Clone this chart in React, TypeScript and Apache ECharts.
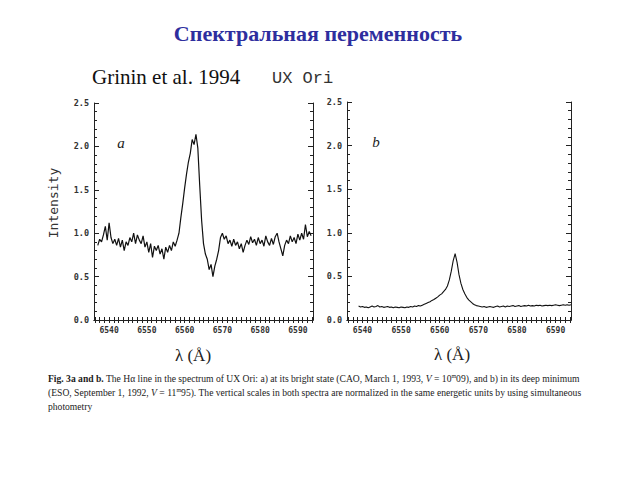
import React, { useEffect, useRef } from "react";
import * as echarts from "echarts";

// Wavelength sampling (Å)
const leftStart = 6537;
const rightStart = 6539;
const sampleStep = 0.5;

// Panel a: bright state (CAO, 1993)
const leftIntensity = [
  0.86, 0.93, 0.90, 0.98, 1.08, 0.92, 1.12, 0.95, 0.88, 0.93,
  0.86, 0.94, 0.84, 0.92, 0.80, 0.90, 0.86, 0.95, 0.90, 1.00,
  0.88, 0.98, 0.92, 0.88, 0.97, 0.84, 0.90, 0.78, 0.88, 0.72,
  0.85, 0.80, 0.86, 0.76, 0.82, 0.70, 0.84, 0.78, 0.86, 0.80,
  0.90, 0.85,
  0.92, 1.00, 1.18, 1.34, 1.52, 1.68, 1.82, 1.92, 2.08, 2.02,
  2.14, 1.98, 1.55, 1.15, 0.88, 0.76, 0.70, 0.58, 0.64, 0.50,
  0.62, 0.70, 0.80, 0.95, 1.00,
  0.93, 0.97, 0.88, 0.92, 0.85, 0.93, 0.86, 0.90, 0.82, 0.88,
  0.78, 0.86, 0.92, 0.87, 0.96, 0.89, 0.93, 0.86, 0.95, 0.88,
  0.92, 0.85, 0.97, 0.90, 0.86, 0.94, 0.87, 0.96, 1.00, 0.90,
  0.82, 0.74, 0.86, 0.92, 0.88, 0.97, 0.90, 0.95, 0.88, 0.99,
  0.92, 1.00, 0.93, 1.10, 0.96, 1.02, 0.97,
];

// Panel b: deep minimum (ESO, 1992)
const rightIntensity = [
  0.16, 0.15, 0.155, 0.145, 0.15, 0.14, 0.15, 0.16, 0.15, 0.155,
  0.165, 0.15, 0.155, 0.145, 0.15, 0.155, 0.145, 0.15, 0.14, 0.15,
  0.145, 0.14, 0.15, 0.145, 0.14, 0.15, 0.145, 0.155, 0.15, 0.16,
  0.155, 0.165, 0.16, 0.17, 0.18, 0.19, 0.20, 0.21, 0.225, 0.235,
  0.25, 0.265, 0.285, 0.30, 0.325, 0.35, 0.39, 0.46, 0.56, 0.68,
  0.76, 0.66, 0.52, 0.42, 0.35, 0.30, 0.26, 0.23, 0.21, 0.19,
  0.175, 0.165, 0.16,
  0.155, 0.15, 0.155, 0.145, 0.15, 0.155, 0.15, 0.145, 0.155, 0.16,
  0.15, 0.155, 0.16, 0.15, 0.16, 0.155, 0.16, 0.165, 0.155, 0.16,
  0.165, 0.155, 0.16, 0.165, 0.16, 0.17, 0.16, 0.165, 0.16, 0.17,
  0.165, 0.17, 0.16, 0.165, 0.17, 0.165, 0.17, 0.165, 0.17, 0.175,
  0.17, 0.165, 0.17, 0.175, 0.17, 0.175, 0.17, 0.175,
];

const xMin = 6536;
const xMax = 6594;
const xLabelValues = [6540, 6550, 6560, 6570, 6580, 6590];
const xTickStep = 1.25;
const yMin = 0;
const yMax = 2.5;
const yInterval = 0.5;

const titleText = "Спектральная переменность";
const refText = "Grinin et al. 1994";
const starText = "UX Ori";
const yName = "Intensity";
const xName = "λ (Å)";
const captionLines = [
  "{b|Fig. 3a and b.} The Hα line in the spectrum of UX Ori: a) at its bright state (CAO, March 1, 1993, {i|V} = 10{s|m}09), and b) in its deep minimum",
  "(ESO, September 1, 1992, {i|V} = 11{s|m}95). The vertical scales in both spectra are normalized in the same energetic units by using simultaneous",
  "photometry",
];

const toPairs = (start: number, vals: number[]) =>
  vals.map((v, i) => [start + i * sampleStep, v]);

const xTickValues: number[] = [];
for (let v = xMin + 0.25; v < xMax; v += xTickStep) xTickValues.push(+v.toFixed(2));

const INK = "#222";
const tickFont = "DejaVu Sans Mono";
const SERIF = "Liberation Serif";

function xAxes(gridIndex: number) {
  const base = {
    type: "value" as const,
    gridIndex,
    min: xMin,
    max: xMax,
    splitLine: { show: false },
    axisLine: { show: true, lineStyle: { color: INK, width: 1 } },
    axisTick: {
      show: true,
      inside: true,
      length: 3,
      customValues: xTickValues,
      lineStyle: { color: INK, width: 1 },
    },
  };
  return [
    {
      ...base,
      position: "bottom",
      axisLabel: {
        show: true,
        customValues: xLabelValues,
        margin: 6,
        fontFamily: tickFont,
        fontSize: 8,
        fontWeight: "bold",
        color: "#333",
        formatter: (v: number) => String(Math.round(v)),
      },
    },
    { ...base, position: "top", axisLabel: { show: false } },
  ];
}

function yAxes(gridIndex: number) {
  const base = {
    type: "value" as const,
    gridIndex,
    min: yMin,
    max: yMax,
    interval: yInterval,
    splitLine: { show: false },
    axisLine: { show: true, lineStyle: { color: INK, width: 1 } },
    axisTick: { show: true, inside: true, length: 5, lineStyle: { color: INK } },
    minorTick: { show: true, splitNumber: 5, length: 3, lineStyle: { color: INK } },
    minorSplitLine: { show: false },
  };
  return [
    {
      ...base,
      position: "left",
      axisLabel: {
        show: true,
        margin: 5,
        fontFamily: tickFont,
        fontSize: 8.5,
        fontWeight: "bold",
        color: "#333",
        formatter: (v: number) => v.toFixed(1),
      },
    },
    { ...base, position: "right", axisLabel: { show: false } },
  ];
}

function txt(
  x: number,
  y: number,
  text: string,
  fontFamily: string,
  fontSize: number,
  extra: Record<string, any> = {},
  fill = "#222",
  align = "center"
) {
  return {
    type: "text",
    x,
    y,
    style: {
      text,
      fontFamily,
      fontSize,
      fill,
      align,
      verticalAlign: "middle",
      ...extra,
    },
  };
}

export default function App() {
  const ref = useRef<HTMLDivElement>(null);
  useEffect(() => {
    if (!ref.current) return;
    const chart = echarts.init(ref.current, undefined, { renderer: "svg" });
    const capSize = 9.6;
    chart.setOption({
      animation: false,
      backgroundColor: "#fff",
      grid: [
        { left: 94, top: 103, width: 219, height: 217 },
        { left: 347, top: 102, width: 224, height: 218 },
      ],
      xAxis: [...xAxes(0), ...xAxes(1)],
      yAxis: [...yAxes(0), ...yAxes(1)],
      series: [
        {
          type: "line",
          xAxisIndex: 0,
          yAxisIndex: 0,
          showSymbol: false,
          lineStyle: { color: "#111", width: 1.2 },
          data: toPairs(leftStart, leftIntensity),
        },
        {
          type: "line",
          xAxisIndex: 2,
          yAxisIndex: 2,
          showSymbol: false,
          lineStyle: { color: "#111", width: 1.1 },
          data: toPairs(rightStart, rightIntensity),
        },
      ],
      graphic: [
        txt(318, 33, titleText, SERIF, 22, { fontWeight: "bold" }, "#2e2e9e"),
        txt(92, 77, refText, SERIF, 21, {}, "#111", "left"),
        txt(272, 78, starText, "Liberation Mono", 17, {}, "#333", "left"),
        {
          ...txt(53, 203, yName, "DejaVu Sans Mono", 13, {}, "#333"),
          rotation: Math.PI / 2,
        },
        txt(193, 355, xName, SERIF, 17),
        txt(452, 354, xName, SERIF, 17),
        txt(121, 143, "a", SERIF, 15, { fontStyle: "italic" }),
        txt(376, 142, "b", SERIF, 15, { fontStyle: "italic" }),
        ...captionLines.map((line, i) =>
          txt(
            48,
            378 + i * 14,
            line,
            SERIF,
            capSize,
            {
              rich: {
                b: { fontFamily: SERIF, fontSize: capSize, fontWeight: "bold", fill: "#222" },
                i: { fontFamily: SERIF, fontSize: capSize, fontStyle: "italic", fill: "#222" },
                s: { fontFamily: SERIF, fontSize: 6, fill: "#222", verticalAlign: "top" },
              },
            },
            "#222",
            "left"
          )
        ),
      ],
    });
    return () => chart.dispose();
  }, []);
  return (
    <div
      ref={ref}
      style={{ position: "fixed", left: 0, top: 0, width: 640, height: 480 }}
    />
  );
}
